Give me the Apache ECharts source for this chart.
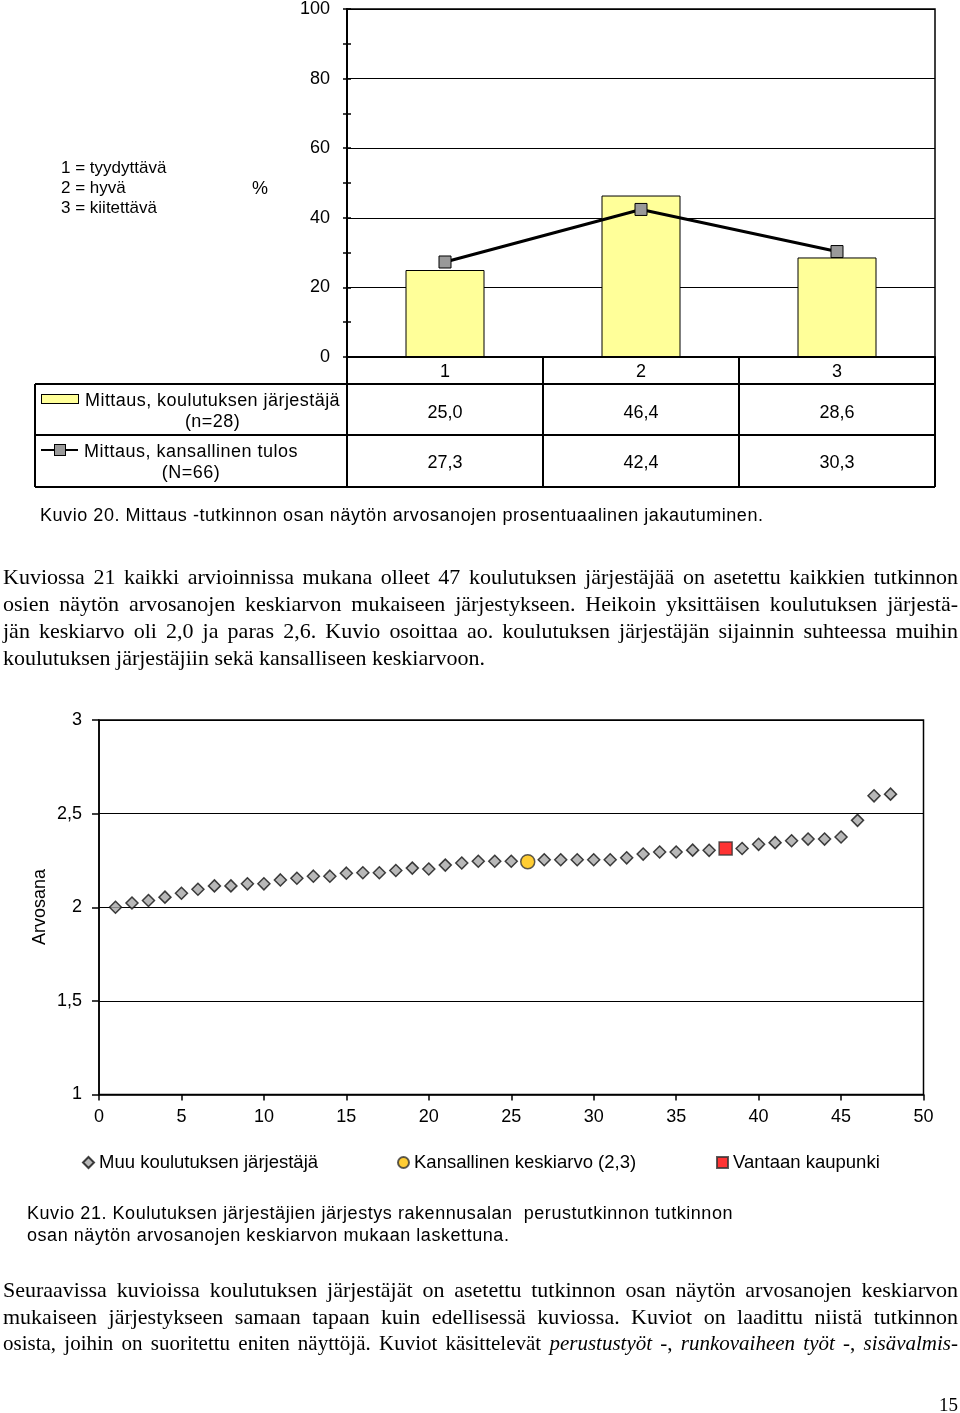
<!DOCTYPE html>
<html><head><meta charset="utf-8">
<script src="https://cdn.jsdelivr.net/npm/echarts@6/dist/echarts.min.js"></script>
<style>
html,body{margin:0;padding:0;background:#fff;}
#page{position:relative;width:960px;height:1413px;overflow:hidden;background:#fff;}
#chart{position:absolute;left:0;top:0;width:960px;height:1413px;}
.t{position:absolute;white-space:nowrap;font-family:"Liberation Sans",Arial,sans-serif;color:#000;line-height:20px;}
.par{position:absolute;left:3px;width:955px;font-family:"Liberation Serif","Times New Roman",serif;font-size:22px;color:#000;}
.jl{height:27px;line-height:27px;text-align:justify;text-align-last:justify;}
.ll{height:27px;line-height:27px;text-align:left;}
.ln{position:absolute;background:#000;}
</style>
</head><body>
<div id="page">
<div id="chart"></div>
<div id="overlay"></div>
</div>
<script>
// ---- Chart 1 data (Kuvio 20) ----
const gradeCats = ['1', '2', '3'];
const providerPct = [25.0, 46.4, 28.6];
const nationalPct = [27.3, 42.4, 30.3];
const pctTicks = [0, 20, 40, 60, 80, 100];

// ---- Chart 2 data (Kuvio 21) ----
const otherRanks = [1,2,3,4,5,6,7,8,9,10,11,12,13,14,15,16,17,18,19,20,21,22,23,24,25,
                    27,28,29,30,31,32,33,34,35,36,37,
                    39,40,41,42,43,44,45,46,47,48];
const otherValues = [2.000,2.023,2.036,2.054,2.075,2.096,2.114,2.114,2.125,2.125,2.146,2.155,2.166,2.166,2.182,2.184,2.184,2.196,2.209,2.204,2.225,2.236,2.246,2.246,2.246,
                     2.254,2.254,2.254,2.254,2.254,2.264,2.284,2.295,2.295,2.305,2.304,
                     2.314,2.336,2.345,2.355,2.364,2.364,2.375,2.464,2.595,2.604];
const nationalRank = [26];
const nationalValue = [2.243];
const vantaaRank = [38];
const vantaaValue = [2.314];
const rankTicks = [0,5,10,15,20,25,30,35,40,45,50];
const gradeTicks = [1, 1.5, 2, 2.5, 3];

const seriesNames = ['Muu koulutuksen järjestäjä', 'Kansallinen keskiarvo (2,3)', 'Vantaan kaupunki'];

const SANS = '"Liberation Sans", Arial, sans-serif';
const fmtComma = v => String(v).replace('.', ',');

// ---------- overlay (text + data table) ----------
const ov = document.getElementById('overlay');
function add(html) { ov.insertAdjacentHTML('beforeend', html); }
function hline(x1, x2, y, w) { w = w || 1.5; add(`<div class="ln" style="left:${x1}px;top:${y - w/2}px;width:${x2 - x1}px;height:${w}px"></div>`); }
function vline(x, y1, y2, w) { w = w || 1.5; add(`<div class="ln" style="left:${x - w/2}px;top:${y1}px;width:${w}px;height:${y2 - y1}px"></div>`); }
function txt(s, x, yc, size, extra) { add(`<div class="t" style="left:${x}px;top:${yc - 10}px;font-size:${size}px;${extra || ''}">${s}</div>`); }
function ctxt(s, xc, yc, size) { add(`<div class="t" style="left:${xc - 100}px;width:200px;text-align:center;top:${yc - 10}px;font-size:${size}px">${s}</div>`); }

// chart 1 side notes
txt('1 = tyydyttävä', 61, 168, 17);
txt('2 = hyvä', 61, 188, 17);
txt('3 = kiitettävä', 61, 208, 17);
txt('%', 252, 188, 18);

// data table under chart 1
const colX = [347, 543, 739, 935];
hline(35, 935, 384); hline(35, 935, 435); hline(35, 935, 487);
vline(35, 384, 487); colX.forEach(x => vline(x, 357, 487));
gradeCats.forEach((c, i) => {
  const xc = (colX[i] + colX[i + 1]) / 2;
  ctxt(providerPct[i].toFixed(1).replace('.', ','), xc, 412, 18);
  ctxt(nationalPct[i].toFixed(1).replace('.', ','), xc, 462, 18);
});
// table legend cells
add('<div style="position:absolute;left:41px;top:394px;width:36px;height:8px;background:#FFFF99;border:1px solid #000"></div>');
add('<div class="t" style="left:85px;top:390px;font-size:18px;line-height:21px;letter-spacing:0.45px;text-align:center">Mittaus, koulutuksen järjestäjä<br>(n=28)</div>');
hline(41, 78, 450, 2.5);
add('<div style="position:absolute;left:54px;top:444px;width:10px;height:10px;background:#999;border:1px solid #000"></div>');
add('<div class="t" style="left:84px;top:441px;font-size:18px;line-height:21px;letter-spacing:0.5px;text-align:center">Mittaus, kansallinen tulos<br>(N=66)</div>');

txt('Kuvio 20. Mittaus -tutkinnon osan näytön arvosanojen prosentuaalinen jakautuminen.', 40, 515, 18, 'letter-spacing:0.55px');

// paragraph 1
add(`<div class="par" style="top:563px">
<div class="jl">Kuviossa 21 kaikki arvioinnissa mukana olleet 47 koulutuksen järjestäjää on asetettu kaikkien tutkinnon</div>
<div class="jl">osien näytön arvosanojen keskiarvon mukaiseen järjestykseen. Heikoin yksittäisen koulutuksen järjestä-</div>
<div class="jl">jän keskiarvo oli 2,0 ja paras 2,6. Kuvio osoittaa ao. koulutuksen järjestäjän sijainnin suhteessa muihin</div>
<div class="ll">koulutuksen järjestäjiin sekä kansalliseen keskiarvoon.</div>
</div>`);

// caption chart 2
txt('Kuvio 21. Koulutuksen järjestäjien järjestys rakennusalan&nbsp; perustutkinnon tutkinnon', 27, 1213, 18, 'letter-spacing:0.55px');
txt('osan näytön arvosanojen keskiarvon mukaan laskettuna.', 27, 1235, 18, 'letter-spacing:0.55px');

// paragraph 2
add(`<div class="par" style="top:1276px">
<div class="jl">Seuraavissa kuvioissa koulutuksen järjestäjät on asetettu tutkinnon osan näytön arvosanojen keskiarvon</div>
<div class="jl">mukaiseen järjestykseen samaan tapaan kuin edellisessä kuviossa. Kuviot on laadittu niistä tutkinnon</div>
<div class="jl" style="font-size:21px;word-spacing:-1px">osista, joihin on suoritettu eniten näyttöjä. Kuviot käsittelevät <i>perustustyöt</i> -, <i>runkovaiheen työt</i> -, <i>sisävalmis-</i></div>
</div>`);
add('<div class="par" style="top:1391px;left:900px;width:58px;text-align:right;line-height:27px;font-size:19px">15</div>');

// ---------- ECharts ----------
const chart = echarts.init(document.getElementById('chart'), null, { renderer: 'canvas' });
const axisLbl = { color: '#000', fontSize: 18, fontFamily: SANS };
const blk = (w) => ({ color: '#000', width: w });
const legendText = { color: '#000', fontSize: 18.5, fontFamily: SANS };

const option = {
  animation: false,
  backgroundColor: 'transparent',
  grid: [
    { left: 347, top: 6, width: 588, height: 351, show: true, borderColor: '#000', borderWidth: 1.5 },
    { left: 99, top: 720, width: 824.5, height: 374.5, show: true, borderColor: '#000', borderWidth: 1.5 }
  ],
  xAxis: [
    { gridIndex: 0, type: 'category', data: gradeCats,
      axisLine: { lineStyle: blk(2) }, axisTick: { show: false },
      axisLabel: Object.assign({ margin: 6 }, axisLbl), splitLine: { show: false } },
    { gridIndex: 1, type: 'value', min: rankTicks[0], max: rankTicks[rankTicks.length - 1], interval: 5,
      axisLine: { onZero: false, lineStyle: blk(1.5) },
      axisTick: { show: true, length: 6, lineStyle: blk(1.5) },
      axisLabel: Object.assign({ margin: 14 }, axisLbl), splitLine: { show: false } }
  ],
  yAxis: [
    { gridIndex: 0, type: 'value', position: 'left', min: pctTicks[0], max: pctTicks[pctTicks.length - 1], interval: 20,
      axisLine: { show: true, lineStyle: blk(2) },
      axisTick: { show: true, length: 4, lineStyle: blk(1.5) },
      minorTick: { show: true, splitNumber: 2, length: 4, lineStyle: blk(1.5) },
      axisLabel: Object.assign({ margin: 17 }, axisLbl),
      splitLine: { show: true, lineStyle: blk(1.2) } },
    { gridIndex: 0, type: 'value', position: 'left', offset: 0, min: pctTicks[0], max: pctTicks[pctTicks.length - 1], interval: 20,
      axisLine: { show: false },
      axisTick: { show: true, inside: true, length: 4, lineStyle: blk(1.5) },
      minorTick: { show: true, splitNumber: 2, length: 4, lineStyle: blk(1.5) },
      axisLabel: { show: false }, splitLine: { show: false } },
    { gridIndex: 1, type: 'value', min: gradeTicks[0], max: gradeTicks[gradeTicks.length - 1], interval: 0.5,
      axisLine: { show: true, onZero: false, lineStyle: blk(1.5) },
      axisTick: { show: true, length: 7, lineStyle: blk(1.5) },
      axisLabel: Object.assign({ margin: 17, formatter: fmtComma }, axisLbl),
      splitLine: { show: true, lineStyle: blk(1.2) } }
  ],
  legend: [
    { data: [seriesNames[0]], left: 77, top: 1148, itemWidth: 11, itemHeight: 11, itemGap: 0,
      textStyle: legendText, selectedMode: false },
    { data: [seriesNames[1]], left: 392, top: 1148, itemWidth: 11, itemHeight: 11, itemGap: 0,
      textStyle: legendText, selectedMode: false },
    { data: [seriesNames[2]], left: 711, top: 1148, itemWidth: 11, itemHeight: 11, itemGap: 0,
      textStyle: legendText, selectedMode: false }
  ],
  graphic: [
    { type: 'text', x: 40, y: 907, rotation: Math.PI / 2,
      style: { text: 'Arvosana', fill: '#000', font: '18px ' + SANS, align: 'center', verticalAlign: 'middle' } }
  ],
  series: [
    { name: 'Mittaus, koulutuksen järjestäjä (n=28)', type: 'bar', xAxisIndex: 0, yAxisIndex: 0,
      data: providerPct, barWidth: 79,
      itemStyle: { color: '#FFFF99', borderColor: '#000', borderWidth: 1 } },
    { name: 'Mittaus, kansallinen tulos (N=66)', type: 'line', xAxisIndex: 0, yAxisIndex: 0,
      data: nationalPct, symbol: 'rect', symbolSize: 12, z: 5,
      lineStyle: { color: '#000', width: 3 },
      itemStyle: { color: '#999999', borderColor: '#000', borderWidth: 1 } },
    { name: seriesNames[0], type: 'scatter', xAxisIndex: 1, yAxisIndex: 2,
      data: otherRanks.map((r, i) => [r, otherValues[i]]),
      symbol: 'diamond', symbolSize: 12,
      itemStyle: { color: '#A6A6A6', borderColor: '#111', borderWidth: 1.5 } },
    { name: seriesNames[1], type: 'scatter', xAxisIndex: 1, yAxisIndex: 2,
      data: nationalRank.map((r, i) => [r, nationalValue[i]]),
      symbol: 'circle', symbolSize: 14,
      itemStyle: { color: '#FFC000', borderColor: '#333', borderWidth: 1.5 } },
    { name: seriesNames[2], type: 'scatter', xAxisIndex: 1, yAxisIndex: 2,
      data: vantaaRank.map((r, i) => [r, vantaaValue[i]]),
      symbol: 'rect', symbolSize: 13,
      itemStyle: { color: '#FF0000', borderColor: '#333', borderWidth: 1.5 } }
  ]
};
chart.setOption(option);
</script>
</body></html>
